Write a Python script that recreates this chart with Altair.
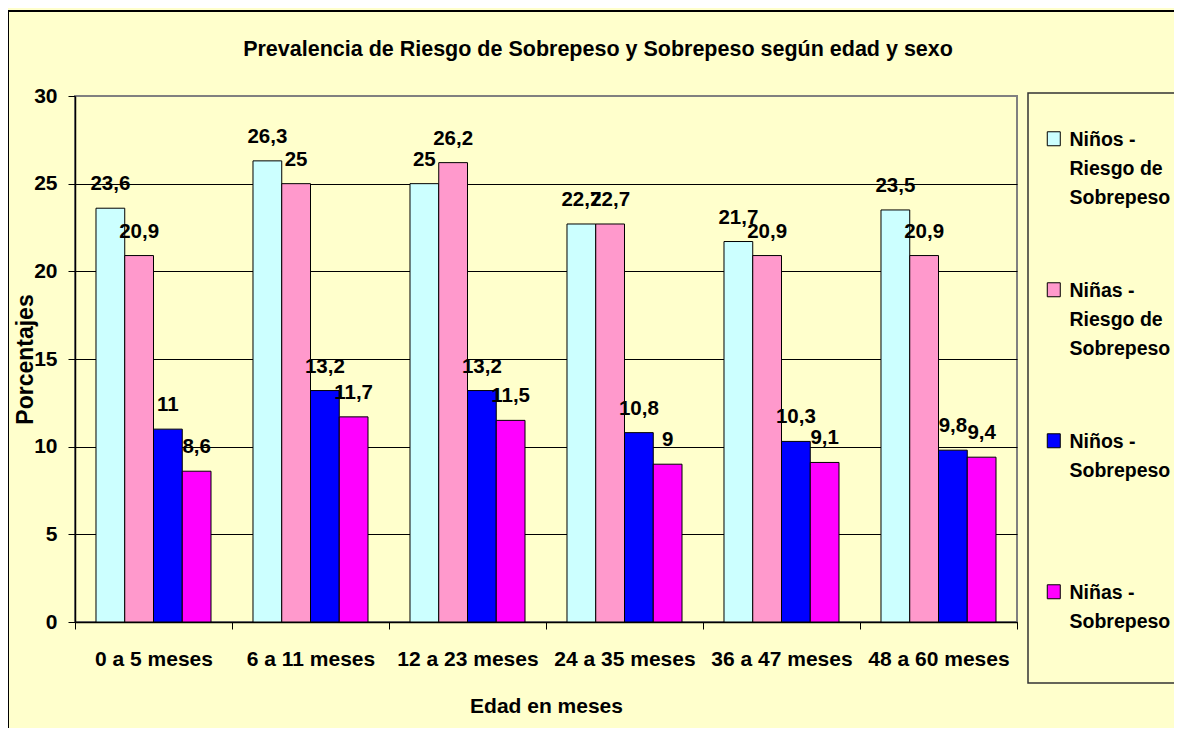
import altair as alt
import pandas as pd

categorias = ["0 a 5 meses", "6 a 11 meses", "12 a 23 meses",
              "24 a 35 meses", "36 a 47 meses", "48 a 60 meses"]
series = ["Niños - Riesgo de Sobrepeso", "Niñas - Riesgo de Sobrepeso",
          "Niños - Sobrepeso", "Niñas - Sobrepeso"]
ninos_riesgo = [23.6, 26.3, 25, 22.7, 21.7, 23.5]
ninas_riesgo = [20.9, 25, 26.2, 22.7, 20.9, 20.9]
ninos_sobrepeso = [11, 13.2, 13.2, 10.8, 10.3, 9.8]
ninas_sobrepeso = [8.6, 11.7, 11.5, 9, 9.1, 9.4]
colores = ["#CCFFFF", "#FF99CC", "#0000FF", "#FF00FF"]
y_ticks = [0, 5, 10, 15, 20, 25, 30]

rows = []
for s, vals in zip(series, [ninos_riesgo, ninas_riesgo, ninos_sobrepeso, ninas_sobrepeso]):
    for c, v in zip(categorias, vals):
        rows.append({"edad": c, "serie": s, "valor": v,
                     "etiqueta": f"{v:g}".replace(".", ",")})
df = pd.DataFrame(rows)

W, H = 942, 526
FONT = "Liberation Sans"
BG = "#FFFFCC"

x_enc = alt.X("edad:N", sort=categorias,
              scale=alt.Scale(paddingInner=0, paddingOuter=0),
              axis=alt.Axis(title="Edad en meses", labelAngle=0, tickBand="extent",
                            grid=False, domainColor="black", domainWidth=1.5,
                            tickColor="black", tickSize=7, labelFontSize=21,
                            labelPadding=19, titleFontSize=21, titleY=90,
                            titleBaseline="alphabetic"))
xoff_enc = alt.XOffset("serie:N", sort=series,
                       scale=alt.Scale(domain=series, paddingInner=0, paddingOuter=0.73))
y_enc = alt.Y("valor:Q", scale=alt.Scale(domain=[0, 30], nice=False),
              axis=alt.Axis(title="Porcentajes", values=y_ticks, grid=True,
                            gridColor={"condition": {"test": "datum.value === 30", "value": "#808080"},
                                       "value": "black"},
                            gridWidth=1, domainColor="black", domainWidth=1.5,
                            tickColor="black", tickSize=7, labelFontSize=21,
                            labelPadding=11, titleFontSize=23, titleX=-50, titleY=H / 2,
                            titleBaseline="middle"))

legend = alt.Legend(
    title=" ", orient="none", legendX=953, legendY=-3, padding=22,
    fillColor=BG, strokeColor="#333333",
    symbolType="M-1.92,-2.15H0.08V0H-1.92Z", symbolSize=169,
    symbolStrokeColor="black", symbolStrokeWidth=1,
    labelFontSize=19.5, labelFontWeight="bold", labelBaseline="alphabetic",
    labelOffset=0, labelLimit=400, rowPadding=72, gridAlign="all",
    titleFontSize=10, titlePadding=11,
    labelExpr=("split(replace(replace(datum.label, ' - ', ' -|'), 'Riesgo de ', 'Riesgo de|')"
               " + '        ' + (indexof(datum.label, 'Riesgo') < 0 ? '| ' : ''), '|')"),
)

base = alt.Chart(df)

bars = base.mark_bar(stroke="black", strokeWidth=1).encode(
    x=x_enc, xOffset=xoff_enc, y=y_enc,
    color=alt.Color("serie:N", sort=series,
                    scale=alt.Scale(domain=series, range=colores), legend=legend),
)

labels = base.mark_text(baseline="alphabetic", dy=-18, fontSize=20.5,
                        fontWeight="bold", color="black").encode(
    x=x_enc, xOffset=xoff_enc, y=y_enc, text="etiqueta:N")

borde = alt.Chart(pd.DataFrame({"b": [0]})).mark_rect(
    fillOpacity=0, stroke="black", strokeWidth=2).encode(
    x=alt.value(-67), x2=alt.value(W + 300), y=alt.value(-85), y2=alt.value(H + 300))

chart = alt.layer(borde, bars, labels).properties(
    width=W, height=H,
    autosize=alt.AutoSizeParams(type="none"),
    padding={"left": 67, "top": 88, "right": 157, "bottom": 106},
    background=BG,
    title=alt.TitleParams(
        "Prevalencia de Riesgo de Sobrepeso y Sobrepeso según edad y sexo",
        fontSize=21.5, font=FONT, fontWeight="bold", color="black",
        anchor="middle", dx=52, baseline="alphabetic", offset=-67),
).configure(
    font=FONT,
    style={"guide-label": {"lineHeight": 29}},
).configure_view(
    fill=BG, stroke="#808080", strokeWidth=2,
).configure_axis(
    labelFont=FONT, titleFont=FONT, labelFontWeight="bold", titleFontWeight="bold",
    labelColor="black", titleColor="black",
).configure_legend(
    labelFont=FONT, labelColor="black", strokeWidth=1.5,
)

chart.save("out.html", embed_options={"renderer": "svg", "actions": False})
